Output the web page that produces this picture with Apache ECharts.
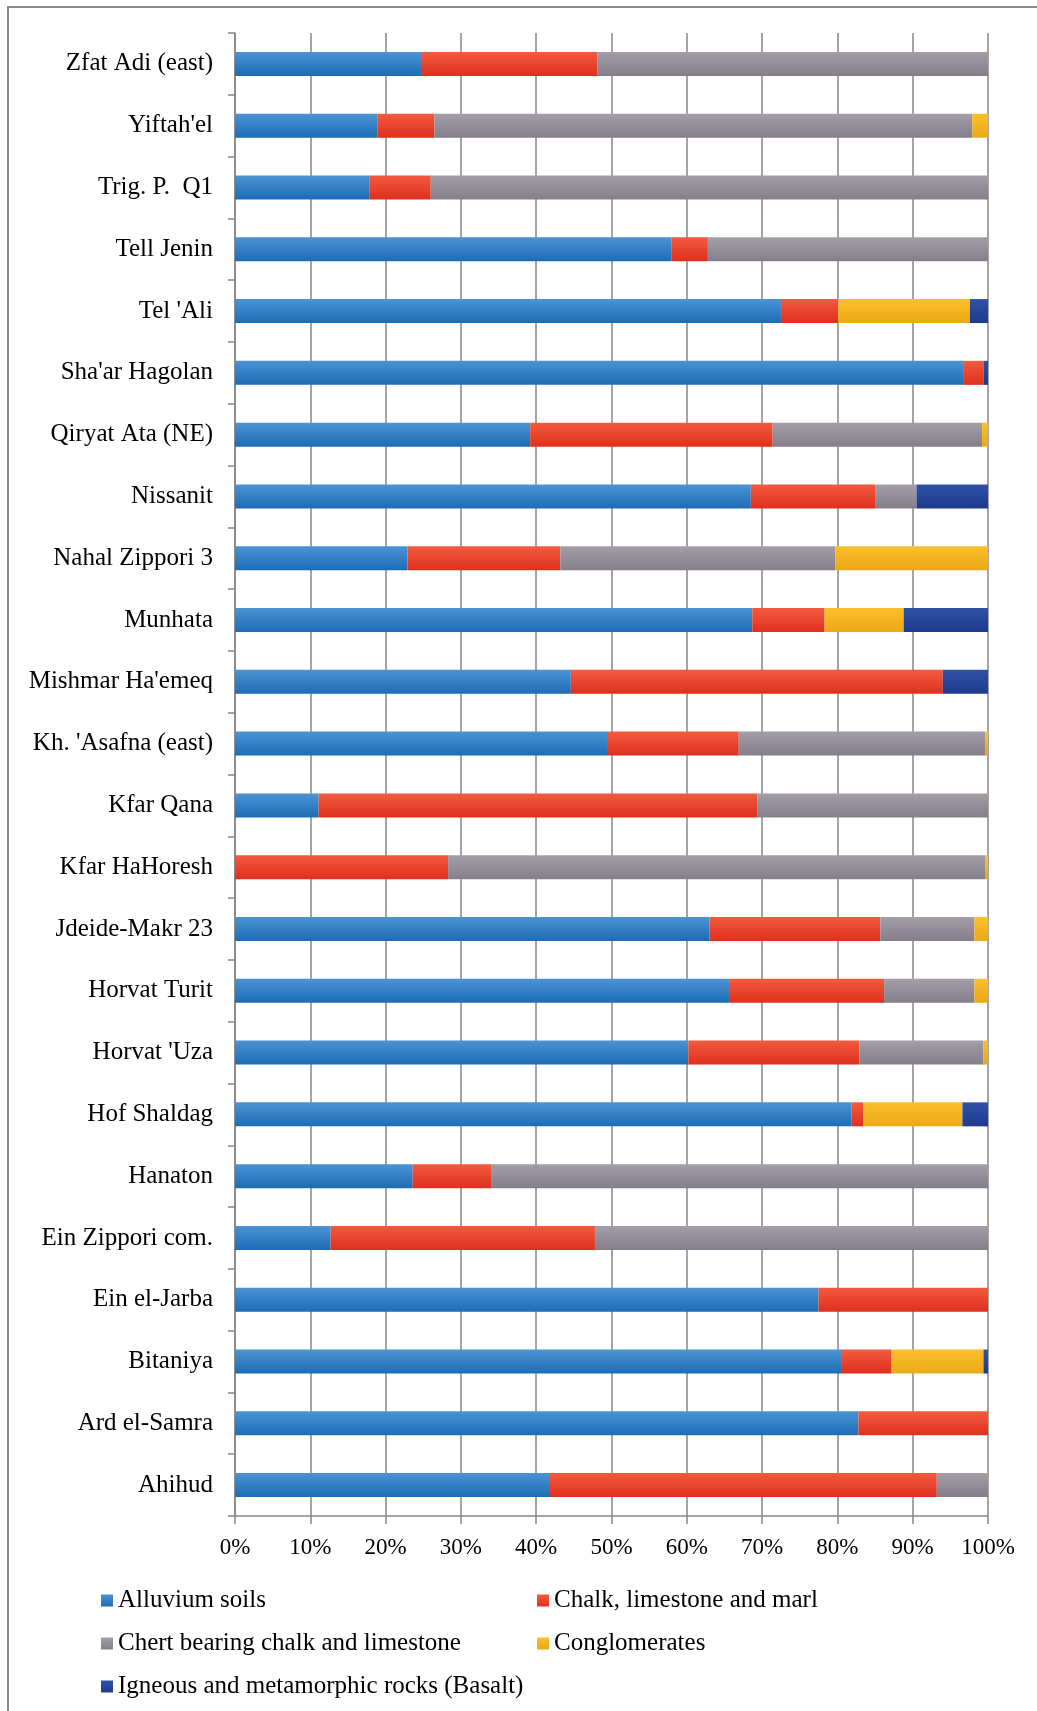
<!DOCTYPE html>
<html>
<head>
<meta charset="utf-8">
<script src="https://cdn.jsdelivr.net/npm/echarts@6/dist/echarts.min.js"></script>
<style>
html,body{margin:0;padding:0;background:#fff;}
#chart{width:1037px;height:1711px;}
</style>
</head>
<body>
<div id="chart"></div>
<script>
// Categories listed bottom -> top
const categories = ["Ahihud","Ard el-Samra","Bitaniya","Ein el-Jarba","Ein Zippori com.","Hanaton","Hof Shaldag","Horvat 'Uza","Horvat Turit","Jdeide-Makr 23","Kfar HaHoresh","Kfar Qana","Kh. 'Asafna (east)","Mishmar Ha'emeq","Munhata","Nahal Zippori 3","Nissanit","Qiryat Ata (NE)","Sha'ar Hagolan","Tel 'Ali","Tell Jenin","Trig. P.  Q1","Yiftah'el","Zfat Adi (east)"];

const alluvium      = [41.7, 82.8, 80.6, 77.5, 12.7, 23.6, 81.9, 60.2, 65.6, 63.0, 0,    11.1, 49.4, 44.6, 68.7, 22.9, 68.5, 39.2, 96.8, 72.5, 58.0, 17.9, 18.9, 24.7];
const chalk         = [51.5, 17.2, 6.6,  22.5, 35.1, 10.5, 1.5,  22.7, 20.6, 22.7, 28.3, 58.3, 17.5, 49.4, 9.6,  20.3, 16.5, 32.2, 2.6,  7.6,  4.8,  8.1,  7.6,  23.4];
const chert         = [6.8,  0,    0,    0,    52.2, 65.9, 0,    16.5, 12.0, 12.5, 71.3, 30.6, 32.7, 0,    0,    36.5, 5.5,  27.8, 0,    0,    37.2, 74.0, 71.4, 51.9];
const conglomerates = [0,    0,    12.2, 0,    0,    0,    13.2, 0.6,  1.8,  1.8,  0.4,  0,    0.4,  0,    10.5, 20.3, 0,    0.8,  0,    17.5, 0,    0,    2.1,  0];
const basalt        = [0,    0,    0.6,  0,    0,    0,    3.4,  0,    0,    0,    0,    0,    0,    6.0,  11.2, 0,    9.5,  0,    0.6,  2.4,  0,    0,    0,    0];

const seriesNames = ["Alluvium soils","Chalk, limestone and marl","Chert bearing chalk and limestone","Conglomerates","Igneous and metamorphic rocks (Basalt)"];

const FONT = "Liberation Serif";
function grad(top, bottom){
  return new echarts.graphic.LinearGradient(0,0,0,1,[{offset:0,color:top},{offset:1,color:bottom}]);
}
const fills = [
  grad('#4c93d3','#1c6cb6'),
  grad('#f25b3e','#df2f1d'),
  grad('#a39ea8','#847e8a'),
  grad('#fcc02c','#eba817'),
  grad('#2f52a6','#1e3a8e')
];
const dataSets = [alluvium, chalk, chert, conglomerates, basalt];

const chart = echarts.init(document.getElementById('chart'), null, {renderer:'canvas'});
chart.setOption({
  animation:false,
  backgroundColor:'#ffffff',
  textStyle:{fontFamily:FONT},
  graphic:[{
    type:'rect', shape:{x:8,y:7,width:1100,height:1800}, style:{fill:'none',stroke:'#8a8a8a',lineWidth:2}, silent:true, z:-1
  }],
  grid:{left:235,right:49,top:33,bottom:195,containLabel:false},
  xAxis:{
    type:'value', min:0, max:100, interval:10,
    axisLine:{show:true,lineStyle:{color:'#868686',width:1.5}},
    axisTick:{show:true,length:8,lineStyle:{color:'#868686',width:1.5}},
    splitLine:{show:true,lineStyle:{color:'#868686',width:1.5}},
    axisLabel:{formatter:function(v){return v+'%';},color:'#000',fontFamily:FONT,fontSize:23,margin:20}
  },
  yAxis:{
    type:'category', data:categories,
    axisLine:{show:true,lineStyle:{color:'#868686',width:1.5}},
    axisTick:{show:true,length:7,lineStyle:{color:'#868686',width:1.5}},
    axisLabel:{color:'#000',fontFamily:FONT,fontSize:25,margin:22}
  },
  legend:[
    {data:[seriesNames[0],seriesNames[2],seriesNames[4]], orient:'vertical', left:96, top:1583, itemWidth:12, itemHeight:12, itemGap:18, icon:'rect',
     textStyle:{color:'#000',fontFamily:FONT,fontSize:25,lineHeight:25}, selectedMode:false},
    {data:[seriesNames[1],seriesNames[3]], orient:'vertical', left:532, top:1583, itemWidth:12, itemHeight:12, itemGap:18, icon:'rect',
     textStyle:{color:'#000',fontFamily:FONT,fontSize:25,lineHeight:25}, selectedMode:false}
  ],
  series: seriesNames.map(function(name,i){
    return {
      name:name, type:'bar', stack:'total', barWidth:24,
      data:dataSets[i],
      itemStyle:{color:fills[i]},
      emphasis:{disabled:true}
    };
  })
});
</script>
</body>
</html>
